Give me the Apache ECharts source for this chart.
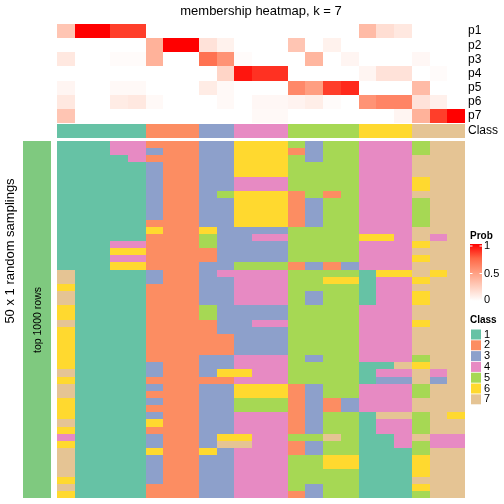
<!DOCTYPE html>
<html>
<head>
<meta charset="utf-8">
<script src="https://cdn.jsdelivr.net/npm/echarts@6/dist/echarts.min.js"></script>
<style>html,body{margin:0;padding:0;background:#fff}#c{width:504px;height:504px}</style>
</head>
<body>
<div id="c"></div>
<script>
// ---- data ----
const samples = ['s1','s2','s3','s4','s5','s6','s7','s8','s9','s10','s11','s12','s13','s14','s15','s16','s17','s18','s19','s20','s21','s22','s23'];
const probRows = ['p1','p2','p3','p4','p5','p6','p7'];
const p1 = [0.30,1.00,1.00,0.85,0.85,0,0,0,0,0,0,0,0,0,0,0,0,0.35,0.17,0.12,0,0,0];
const p2 = [0,0,0,0,0,0.40,1.00,1.00,0.15,0.07,0,0,0,0.30,0,0.07,0,0,0,0,0,0,0];
const p3 = [0.12,0,0,0.02,0.02,0.40,0,0,0.70,0.55,0.02,0,0,0,0.38,0,0.05,0,0,0,0.04,0,0];
const p4 = [0,0,0,0,0,0,0,0,0,0.22,0.95,0.88,0.88,0,0,0,0,0.05,0.15,0.15,0,0.02,0];
const p5 = [0.05,0,0,0.03,0.03,0,0,0,0.10,0.03,0,0,0,0.60,0.50,0.85,0.90,0,0,0,0.35,0,0];
const p6 = [0.12,0,0,0.10,0.12,0.03,0,0,0,0.03,0,0.04,0.04,0.06,0.09,0.02,0,0.55,0.62,0.62,0.15,0.08,0];
const p7 = [0.30,0,0,0,0,0,0,0,0,0,0,0.03,0.03,0,0,0,0,0,0,0.05,0.40,0.85,1.00];
const sampleClass = [1,1,1,1,1,2,2,2,3,3,4,4,4,5,5,5,5,6,6,6,7,7,7];
const classNames = ['1','2','3','4','5','6','7'];
const probTicks = ['1','0.5','0'];
const samplings = [
[1,1,1,4,4,2,2,2,3,3,6,6,6,5,3,5,5,4,4,4,5,7,7],
[1,1,1,4,4,3,2,2,3,3,6,6,6,2,3,5,5,4,4,4,5,7,7],
[1,1,1,1,4,2,2,2,3,3,6,6,6,5,3,5,5,4,4,4,7,7,7],
[1,1,1,1,1,3,2,2,3,3,6,6,6,5,5,5,5,4,4,4,7,7,7],
[1,1,1,1,1,3,2,2,3,3,6,6,6,5,5,5,5,4,4,4,7,7,7],
[1,1,1,1,1,3,2,2,3,3,4,4,4,5,5,5,5,4,4,4,6,7,7],
[1,1,1,1,1,3,2,2,3,3,4,4,4,5,5,5,5,4,4,4,6,7,7],
[1,1,1,1,1,3,2,2,3,5,6,6,6,2,5,2,5,4,4,4,7,7,7],
[1,1,1,1,1,3,2,2,3,3,6,6,6,2,3,5,5,4,4,4,5,7,7],
[1,1,1,1,1,3,2,2,3,3,6,6,6,2,3,5,5,4,4,4,5,7,7],
[1,1,1,1,1,3,2,2,3,3,6,6,6,2,3,5,5,4,4,4,5,7,7],
[1,1,1,1,1,2,2,2,3,3,6,6,6,2,3,5,5,4,4,4,5,7,7],
[1,1,1,1,1,6,2,2,6,3,3,3,3,5,5,5,5,4,4,4,7,7,7],
[1,1,1,1,1,2,2,2,5,3,3,4,4,5,5,5,5,6,6,4,7,4,7],
[1,1,1,4,4,2,2,2,5,3,3,3,3,5,5,5,5,4,4,4,6,7,7],
[1,1,1,6,6,2,2,2,2,3,3,3,3,5,5,5,5,4,4,4,7,7,7],
[1,1,1,4,4,2,2,2,2,3,3,3,3,5,5,5,5,4,4,4,6,7,7],
[1,1,1,6,6,2,2,2,3,3,5,5,5,2,3,2,3,4,4,4,7,7,7],
[7,1,1,1,1,3,2,2,3,4,4,4,4,5,5,5,5,1,6,6,7,6,7],
[7,1,1,1,1,3,2,2,3,3,4,4,4,5,5,6,6,1,4,4,6,7,7],
[6,1,1,1,1,2,2,2,3,3,4,4,4,5,5,5,5,1,4,4,7,7,7],
[7,1,1,1,1,2,2,2,3,3,4,4,4,5,3,5,5,1,4,4,6,7,7],
[7,1,1,1,1,2,2,2,3,3,4,4,4,5,3,5,5,1,4,4,6,7,7],
[6,1,1,1,1,2,2,2,5,3,3,3,3,5,5,5,5,4,4,4,7,7,7],
[6,1,1,1,1,2,2,2,5,3,3,3,3,5,5,5,5,4,4,4,7,7,7],
[7,1,1,1,1,2,2,2,2,3,3,4,4,5,5,5,5,4,4,4,6,7,7],
[6,1,1,1,1,2,2,2,2,3,3,3,3,5,5,5,5,4,4,4,7,7,7],
[6,1,1,1,1,2,2,2,2,2,3,3,3,5,5,5,5,4,4,4,7,7,7],
[6,1,1,1,1,2,2,2,2,2,3,3,3,5,5,5,5,4,4,4,7,7,7],
[6,1,1,1,1,2,2,2,2,2,3,3,3,5,5,5,5,4,4,4,7,7,7],
[6,1,1,1,1,2,2,2,3,3,4,4,4,5,3,5,5,4,4,4,5,7,7],
[6,1,1,1,1,3,2,2,3,3,4,4,4,5,5,5,5,1,1,7,6,7,7],
[7,1,1,1,1,3,2,2,3,6,6,4,4,5,5,5,5,1,4,4,7,4,7],
[6,1,1,1,1,2,2,2,2,2,4,4,4,5,5,5,5,1,3,3,7,3,7],
[7,1,1,1,1,3,2,2,3,3,6,6,6,2,3,5,5,4,4,4,5,7,7],
[7,1,1,1,1,2,2,2,3,3,6,6,6,2,3,5,5,4,4,4,5,7,7],
[6,1,1,1,1,3,2,2,3,3,5,5,5,2,3,2,3,4,4,4,7,7,7],
[6,1,1,1,1,2,2,2,3,3,5,5,5,2,3,2,3,4,4,4,7,7,7],
[6,1,1,1,1,3,2,2,3,3,4,4,4,2,3,5,5,1,7,7,5,7,6],
[7,1,1,1,1,6,2,2,3,3,4,4,4,2,3,5,5,1,4,4,5,7,7],
[6,1,1,1,1,2,2,2,3,3,4,4,4,2,3,5,5,1,4,4,5,7,7],
[4,1,1,1,1,3,2,2,3,6,6,4,4,5,5,7,5,1,1,4,7,4,4],
[6,1,1,1,1,3,2,2,3,7,7,4,4,2,3,5,5,1,1,4,5,4,4],
[7,1,1,1,1,6,2,2,6,3,4,4,4,2,3,5,5,1,1,1,5,7,7],
[7,1,1,1,1,3,2,2,3,3,4,4,4,5,5,6,6,1,1,1,6,7,7],
[7,1,1,1,1,3,2,2,3,3,4,4,4,5,5,6,6,1,1,1,6,7,7],
[7,1,1,1,1,3,2,2,3,3,4,4,4,5,5,5,5,1,1,1,6,7,7],
[6,1,1,1,1,3,2,2,3,3,4,4,4,5,5,5,5,1,1,1,7,7,7],
[7,1,1,1,1,2,2,2,3,3,4,4,4,5,3,5,5,1,1,1,6,7,7],
[6,1,1,1,1,2,2,2,3,3,4,4,4,2,3,5,5,1,1,1,5,7,7]
];

// ---- styles ----
const classColors = ['#66C2A5','#FC8D62','#8DA0CB','#E78AC3','#A6D854','#FFD92F','#E5C494'];
const probColors = ['#FFFFFF','#FFCFBF','#FF9E81','#FF6746','#FF0000'];
const FONT = 'Liberation Sans, Arial, sans-serif';

const probs = [p1,p2,p3,p4,p5,p6,p7];
const probData = [];
probs.forEach((row, r) => row.forEach((v, c) => probData.push([c, r, v])));
const classData = sampleClass.map((v, c) => [c, 0, v]);
const sampData = [];
samplings.forEach((row, r) => row.forEach((v, c) => sampData.push([c, r, v])));
const samplingNames = samplings.map((_, i) => String(i + 1));

// cell renderer: uses the axes' scales, snapped to whole pixels so neighbours do not leave seams
function renderCell(params, api) {
  const c = api.coord([api.value(0), api.value(1)]);
  const s = api.size([1, 1]);
  const x0 = Math.round(c[0] - s[0] / 2), x1 = Math.round(c[0] + s[0] / 2);
  const y0 = Math.round(c[1] - s[1] / 2), y1 = Math.round(c[1] + s[1] / 2);
  return {type:'rect', shape:{x:x0, y:y0, width:x1 - x0, height:y1 - y0},
    style:{fill:api.visual('color')}};
}
const cellSeries = (i, data) => ({type:'custom', xAxisIndex:i, yAxisIndex:i, data:data,
  renderItem:renderCell, encode:{x:0, y:1}, silent:true});

const L = 57, W = 408;
const hiddenX = (i) => ({type:'category', gridIndex:i, data:samples, show:false});

const graphics = [];
graphics.push({type:'text', x:261, y:11, style:{text:'membership heatmap, k = 7', font:'13px '+FONT, fill:'#000', align:'center', verticalAlign:'middle'}});
// left annotation bar
graphics.push({type:'rect', shape:{x:23, y:141, width:28, height:357}, style:{fill:'#7FC97F'}});
graphics.push({type:'text', x:38, y:320, rotation:Math.PI/2, style:{text:'top 1000 rows', font:'10.5px '+FONT, fill:'#000', align:'center', verticalAlign:'middle'}});
graphics.push({type:'text', x:10, y:251, rotation:Math.PI/2, style:{text:'50 x 1 random samplings', font:'13px '+FONT, fill:'#000', align:'center', verticalAlign:'middle'}});
// Prob legend
graphics.push({type:'text', x:470, y:236, style:{text:'Prob', font:'bold 10px '+FONT, fill:'#000', align:'left', verticalAlign:'middle'}});
graphics.push({type:'rect', shape:{x:470, y:244, width:12, height:57}, style:{fill:new echarts.graphic.LinearGradient(0,0,0,1, probColors.slice().reverse().map((c,i)=>({offset:i/(probColors.length-1), color:c})))}});
const tickY = [246, 273.5, 300];
probTicks.forEach((t, i) => {
  graphics.push({type:'text', x:484, y:tickY[i], style:{text:t, font:'11px '+FONT, fill:'#000', align:'left', verticalAlign:'middle'}});
  graphics.push({type:'line', shape:{x1:470, y1:tickY[i], x2:472.5, y2:tickY[i]}, style:{stroke:'#fff', lineWidth:1}});
  graphics.push({type:'line', shape:{x1:479.5, y1:tickY[i], x2:482, y2:tickY[i]}, style:{stroke:'#fff', lineWidth:1}});
});
// Class legend
graphics.push({type:'text', x:470, y:320, style:{text:'Class', font:'bold 10px '+FONT, fill:'#000', align:'left', verticalAlign:'middle'}});
classNames.forEach((n, i) => {
  const y = 329 + i * 10.8;
  graphics.push({type:'rect', shape:{x:471, y:y+0.5, width:10, height:10}, style:{fill:classColors[i]}});
  graphics.push({type:'text', x:484, y:y+5.5, style:{text:n, font:'11px '+FONT, fill:'#000', align:'left', verticalAlign:'middle'}});
});

const chart = echarts.init(document.getElementById('c'), null, {renderer:'canvas'});
chart.setOption({
  animation:false,
  backgroundColor:'#fff',
  grid:[
    {left:L, top:24, width:W, height:99},
    {left:L, top:124, width:W, height:14},
    {left:L, top:141, width:W, height:357}
  ],
  xAxis:[hiddenX(0), hiddenX(1), hiddenX(2)],
  yAxis:[
    {type:'category', gridIndex:0, data:probRows, inverse:true, position:'right',
      axisLine:{show:false}, axisTick:{show:false}, splitLine:{show:false},
      axisLabel:{interval:0, fontSize:12, color:'#000', margin:3, fontFamily:FONT}},
    {type:'category', gridIndex:1, data:['Class'], position:'right',
      axisLine:{show:false}, axisTick:{show:false}, splitLine:{show:false},
      axisLabel:{interval:0, fontSize:12, color:'#000', margin:3, fontFamily:FONT}},
    {type:'category', gridIndex:2, data:samplingNames, inverse:true, show:false}
  ],
  visualMap:[
    {type:'continuous', min:0, max:1, dimension:2, seriesIndex:0, show:false, inRange:{color:probColors}},
    {type:'piecewise', dimension:2, seriesIndex:[1,2], show:false,
      pieces:classNames.map((n,i)=>({value:i+1, color:classColors[i]}))}
  ],
  series:[cellSeries(0, probData), cellSeries(1, classData), cellSeries(2, sampData)],
  graphic:graphics
});
</script>
</body>
</html>
